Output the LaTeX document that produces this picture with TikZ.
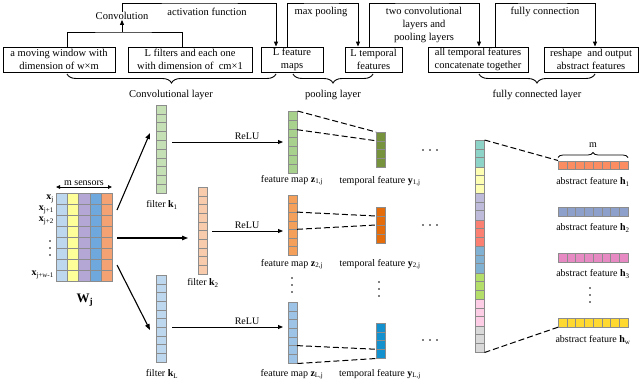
\documentclass[tikz,border=0pt]{standalone}
\usepackage{fontspec}
\setmainfont{Liberation Serif}
\usetikzlibrary{arrows.meta,decorations.pathreplacing}
\definecolor{kone}{HTML}{C5E0B4}
\definecolor{ktwo}{HTML}{F8CBAD}
\definecolor{kL}{HTML}{BDD7EE}
\definecolor{zone}{HTML}{A9D18E}
\definecolor{ztwo}{HTML}{F5A05A}
\definecolor{zL}{HTML}{9DC3E6}
\definecolor{yone}{HTML}{76923C}
\definecolor{ytwo}{HTML}{E46C0A}
\definecolor{yL}{HTML}{1391CF}
\definecolor{mA}{HTML}{BDD7EE}
\definecolor{mB}{HTML}{FFFF99}
\definecolor{mC}{HTML}{B4A7D6}
\definecolor{mD}{HTML}{6FA8DC}
\definecolor{mE}{HTML}{F4A273}
\definecolor{sA}{HTML}{8DD3C7}
\definecolor{sB}{HTML}{FFFFB3}
\definecolor{sC}{HTML}{BEBADA}
\definecolor{sD}{HTML}{FB8072}
\definecolor{sE}{HTML}{80B1D3}
\definecolor{sF}{HTML}{B3DE69}
\definecolor{sG}{HTML}{FCCDE5}
\definecolor{sH}{HTML}{D9D9D9}
\definecolor{hA}{HTML}{FC8D62}
\definecolor{hB}{HTML}{8DA0CB}
\definecolor{hC}{HTML}{E78AC3}
\definecolor{hD}{HTML}{FFD92F}
\definecolor{cellgray}{HTML}{8C8C8C}
\tikzset{
 txt/.style={font=\fontsize{10.5}{13}\selectfont, inner sep=0pt, align=center},
 lbl/.style={font=\fontsize{10}{12}\selectfont, inner sep=0pt},
 topbox/.style={draw, line width=0.9pt, minimum height=25pt, inner sep=1pt, align=center, font=\fontsize{10.5}{13}\selectfont},
 conn/.style={line width=0.9pt},
 arr/.style={line width=0.9pt, -{Triangle[length=5pt,width=4pt]}},
 bigarr/.style={line width=1.1pt, -{Triangle[length=6pt,width=4.5pt]}},
 dshline/.style={line width=1pt, dash pattern=on 6pt off 3pt},
 brc/.style={decorate, decoration={brace, amplitude=9pt, mirror}, line width=0.9pt},
 brcup/.style={decorate, decoration={brace, amplitude=5pt}, line width=0.8pt},
 cellbox/.style={draw=cellgray, inner sep=0pt, line width=0.5pt},
 celline/.style={draw=cellgray, line width=0.4pt},
}
% name, x, y, w, h, n, colour
\newcommand{\vstrip}[7]{%
 \node[cellbox, fill=#7, minimum width=#4pt, minimum height=#5pt, anchor=north west] (#1) at (#2,#3) {};
 \pgfmathtruncatemacro{\nmone}{#6-1}%
 \foreach \i in {1,...,\nmone} {\draw[celline] (#2,{#3+\i*#5/#6}) -- ++(#4,0);}
}
\newcommand{\hstrip}[7]{%
 \node[cellbox, fill=#7, minimum width=#4pt, minimum height=#5pt, anchor=north west] (#1) at (#2,#3) {};
 \pgfmathtruncatemacro{\nmone}{#6-1}%
 \foreach \i in {1,...,\nmone} {\draw[celline] ({#2+\i*#4/#6},#3) -- ++(0,#5);}
}
\newcommand{\mydotsv}[2]{\foreach \d in {-7,0,7} {\fill (#1,{#2+\d}) circle (0.9);}}
\newcommand{\mydotsh}[2]{\foreach \d in {-7,0,7} {\fill ({#1+\d},#2) circle (0.9);}}
\begin{document}
\begin{tikzpicture}[x=1pt,y=-1pt]
\useasboundingbox (0,0) rectangle (640,380);
% ---------- top boxes ----------
\node[topbox, minimum width=112pt] (b1) at (59,59.5) {a moving window with\\dimension of w×m};
\node[topbox, minimum width=124pt] (b2) at (190,59.5) {L filters and each one\\with dimension of\ \ cm×1};
\node[topbox, minimum width=62pt] (b3) at (292,59.5) {L feature\\maps};
\node[topbox, minimum width=57pt] (b4) at (373.5,59.5) {L temporal\\features};
\node[topbox, minimum width=100pt] (b5) at (478,59.5) {all temporal features\\concatenate together};
\node[topbox, minimum width=94pt] (b6) at (591,59.5) {reshape\ \ and output\\abstract features};
% connectors
\node[txt] (conv) at (122,16) {Convolution};
\coordinate (j1) at (122,32);
\draw[conn] ([xshift=8pt]b1.north) |- (j1) -| ([xshift=-8pt]b2.north);
\draw[arr] (j1) -- (conv.south);
\draw[arr] (conv.north) |- (200,3) -| ([xshift=-16pt]b3.north);
\node[txt] (actf) at (207,12) {activation function};
\draw[arr] ([xshift=-5pt]b3.north) |- (320,3) -| ([xshift=-15.5pt]b4.north);
\node[txt] (maxp) at (321,12) {max pooling};
\draw[arr] ([xshift=-4.5pt]b4.north) |- (420,3) -| ([xshift=1pt]b5.north);
\node[txt] (twoc) at (424,25) {two convolutional\\layers and\\pooling layers};
\draw[arr] ([xshift=17pt]b5.north) |- (540,3) -| ([xshift=4pt]b6.north);
\node[txt] (fcon) at (545,12) {fully connection};
% braces
\draw[brc] (67,74) -- (276,74);
\node[txt] (convl) at (171,95) {Convolutional layer};
\draw[brc] (293,74) -- (373,74);
\node[txt] (pooll) at (333,95) {pooling layer};
\draw[brc] (479,74) -- (595,74);
\node[txt] (fcl) at (537,95) {fully connected layer};
% ---------- input matrix ----------
\vstrip{ma}{56}{193}{11.2}{88}{8}{mA}
\vstrip{mb}{67.2}{193}{11.2}{88}{8}{mB}
\vstrip{mc}{78.4}{193}{11.2}{88}{8}{mC}
\vstrip{md}{89.6}{193}{11.2}{88}{8}{mD}
\vstrip{me}{100.8}{193}{11.2}{88}{8}{mE}
\coordinate (msl) at (56,187);
\coordinate (msr) at (112,187);
\draw[line width=0.8pt, {Triangle[length=4pt,width=3.5pt]}-{Triangle[length=4pt,width=3.5pt]}] (msl) -- (msr);
\node[lbl, anchor=base] (msens) at (84,185.5) {m sensors};
\node[lbl, anchor=east] (xj) at (54,199) {\textbf{x}\textsubscript{j}};
\node[lbl, anchor=east] (xj1) at (54,210) {\textbf{x}\textsubscript{j+1}};
\node[lbl, anchor=east] (xj2) at (54,221) {\textbf{x}\textsubscript{j+2}};
\mydotsv{50}{248}
\node[lbl, anchor=east] (xjw) at (54,275) {\textbf{x}\textsubscript{j+w-1}};
\node[font=\fontsize{13}{15}\selectfont, inner sep=0pt] (wj) at (85,300) {\textbf{W}\textsubscript{\textbf{j}}};
% ---------- filters ----------
\vstrip{k1}{156}{105}{10}{88}{10}{kone}
\vstrip{k2}{198}{187}{9}{87}{10}{ktwo}
\vstrip{kl}{156}{275}{10}{87}{10}{kL}
\node[lbl] (k1l) at (162,205) {filter \textbf{k}\textsubscript{1}};
\node[lbl] (k2l) at (203,283) {filter \textbf{k}\textsubscript{2}};
\node[lbl] (kll) at (162,374) {filter \textbf{k}\textsubscript{L}};
\coordinate (ma1) at (117,210);
\coordinate (ma2) at (117,238);
\coordinate (ma3) at (117,265);
\draw[bigarr] (ma1) -- (150,133);
\draw[bigarr] (ma2) -- (188,238);
\draw[bigarr] (ma3) -- (150,330);
% ---------- feature maps ----------
\vstrip{z1}{288}{111}{9}{62}{7}{zone}
\vstrip{z2}{288}{195}{9}{60}{7}{ztwo}
\vstrip{zl}{288}{302}{9}{61}{7}{zL}
\draw[arr] (172,142) -- (283,142);
\draw[arr] (212,231) -- (283,231);
\draw[arr] (172,327) -- (283,327);
\node[lbl, anchor=base] (r1) at (247,139) {ReLU};
\node[lbl, anchor=base] (r2) at (247,228) {ReLU};
\node[lbl, anchor=base] (r3) at (247,324.5) {ReLU};
\node[lbl] (z1l) at (292,180) {feature map \textbf{z}\textsubscript{1,j}};
\node[lbl] (z2l) at (292,264) {feature map \textbf{z}\textsubscript{2,j}};
\node[lbl] (zll) at (292,374) {feature map \textbf{z}\textsubscript{L,j}};
\mydotsv{292}{285}
% ---------- temporal features ----------
\vstrip{y1}{376}{132}{8.5}{35}{4}{yone}
\vstrip{y2}{376}{207}{8.5}{36}{4}{ytwo}
\vstrip{yl}{376}{323}{8.5}{35}{4}{yL}
\node[lbl] (y1l) at (380,181) {temporal feature \textbf{y}\textsubscript{1,j}};
\node[lbl] (y2l) at (380,264) {temporal feature \textbf{y}\textsubscript{2,j}};
\node[lbl] (yll) at (380,374) {temporal feature \textbf{y}\textsubscript{L,j}};
\mydotsv{379}{289}
\draw[dshline] (z1.north east) -- (y1.north west);
\draw[dshline] (297,129.7) -- (376,140.75);
\draw[dshline] (297,212.1) -- (376,216);
\draw[dshline] (297,229.3) -- (376,225);
\draw[dshline] (297,345.6) -- (376,349.25);
\draw[dshline] (zl.south east) -- (yl.south west);
\mydotsh{430}{150}
\mydotsh{430}{225}
\mydotsh{430}{340}
% ---------- concatenated ----------
\vstrip{g1}{475}{140}{9}{26.5}{3}{sA}
\vstrip{g2}{475}{166.5}{9}{26.5}{3}{sB}
\vstrip{g3}{475}{193}{9}{26.5}{3}{sC}
\vstrip{g4}{475}{219.5}{9}{26.5}{3}{sD}
\vstrip{g5}{475}{246}{9}{26.5}{3}{sE}
\vstrip{g6}{475}{272.5}{9}{26.5}{3}{sF}
\vstrip{g7}{475}{299}{9}{26.5}{3}{sG}
\vstrip{g8}{475}{325.5}{9}{26.5}{3}{sH}
% ---------- abstract features ----------
\hstrip{h1}{558}{160.5}{70}{8.7}{8}{hA}
\hstrip{h2}{558}{207}{70}{8.7}{8}{hB}
\hstrip{h3}{558}{253}{70}{8.7}{8}{hC}
\hstrip{hw}{558}{318}{70}{8.7}{8}{hD}
\draw[brcup] (558,157.5) -- (628,157.5);
\node[lbl] (mlab) at (593,145) {m};
\node[lbl] (h1l) at (593,182) {abstract feature \textbf{h}\textsubscript{1}};
\node[lbl] (h2l) at (593,228) {abstract feature \textbf{h}\textsubscript{2}};
\node[lbl] (h3l) at (593,274) {abstract feature \textbf{h}\textsubscript{3}};
\node[lbl] (hwl) at (593,340) {abstract feature \textbf{h}\textsubscript{w}};
\mydotsv{590}{295}
\draw[dshline] (g1.north east) -- (h1.north west);
\draw[dshline] (g8.south east) -- (hw.south west);
\end{tikzpicture}
\end{document}
